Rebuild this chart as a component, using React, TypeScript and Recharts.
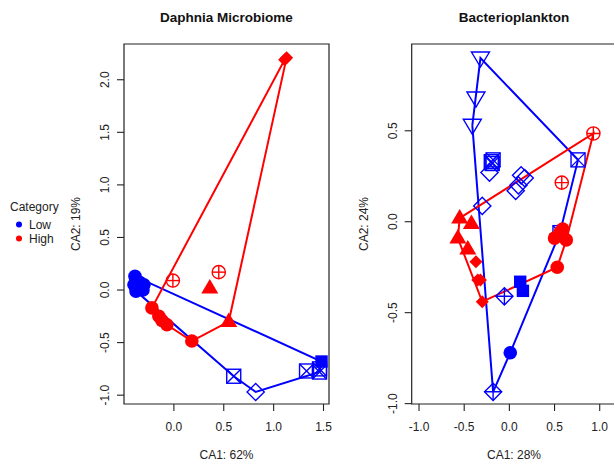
import React from "react";
import { ScatterChart, Scatter, XAxis, YAxis, ReferenceArea } from "recharts";

type P = { x: number; y: number };

const LOW = "#0000ff";
const HIGH = "#ff0000";
const FONT = "'Liberation Sans', Arial, Helvetica, sans-serif";

// ---- Daphnia Microbiome (CA1 62%, CA2 19%) ----
const daphniaLowCircle: P[] = [
  { x: -0.39, y: 0.13 }, { x: -0.4, y: 0.05 }, { x: -0.37, y: 0.01 },
  { x: -0.34, y: 0.07 }, { x: -0.3, y: 0.05 }, { x: -0.31, y: 0.0 },
  { x: -0.38, y: -0.01 },
];
const daphniaLowSquare: P[] = [{ x: 1.48, y: -0.68 }];
const daphniaLowBoxX: P[] = [
  { x: 0.6, y: -0.82 }, { x: 1.33, y: -0.77 }, { x: 1.46, y: -0.78 }, { x: 1.46, y: -0.75 },
];
const daphniaLowDiamond: P[] = [{ x: 0.82, y: -0.97 }];

const daphniaHighDiamond: P[] = [{ x: 1.11, y: 2.19 }, { x: 1.13, y: 2.21 }];
const daphniaHighCirclePlus: P[] = [{ x: -0.01, y: 0.09 }, { x: 0.45, y: 0.17 }];
const daphniaHighTriangle: P[] = [{ x: 0.36, y: 0.02 }, { x: 0.55, y: -0.3 }];
const daphniaHighCircle: P[] = [
  { x: -0.22, y: -0.17 }, { x: -0.15, y: -0.25 }, { x: -0.12, y: -0.29 },
  { x: -0.07, y: -0.33 }, { x: 0.18, y: -0.485 },
];

// ---- Bacterioplankton (CA1 28%, CA2 24%) ----
const bactLowDownTri: P[] = [{ x: -0.32, y: 0.9 }, { x: -0.37, y: 0.68 }, { x: -0.41, y: 0.53 }];
const bactLowBoxX: P[] = [
  { x: -0.2, y: 0.33 }, { x: -0.18, y: 0.34 }, { x: -0.19, y: 0.32 },
  { x: 0.76, y: 0.34 }, { x: 0.56, y: -0.06 },
];
const bactLowDiamond: P[] = [
  { x: -0.22, y: 0.27 }, { x: 0.13, y: 0.255 }, { x: 0.07, y: 0.17 },
  { x: 0.17, y: 0.24 }, { x: 0.1, y: 0.2 }, { x: -0.3, y: 0.087 },
];
const bactLowSquare: P[] = [{ x: 0.12, y: -0.33 }, { x: 0.15, y: -0.38 }];
const bactLowDiamondPlus: P[] = [{ x: -0.055, y: -0.41 }, { x: -0.18, y: -0.935 }];
const bactLowCircle: P[] = [{ x: 0.01, y: -0.72 }];

const bactHighCirclePlus: P[] = [{ x: 0.93, y: 0.485 }, { x: 0.58, y: 0.215 }];
const bactHighTriangle: P[] = [
  { x: -0.55, y: 0.02 }, { x: -0.42, y: -0.01 }, { x: -0.57, y: -0.09 }, { x: -0.46, y: -0.15 },
];
const bactHighDiamond: P[] = [
  { x: -0.37, y: -0.22 }, { x: -0.35, y: -0.32 }, { x: -0.32, y: -0.32 }, { x: -0.3, y: -0.44 },
];
const bactHighCircle: P[] = [
  { x: 0.5, y: -0.09 }, { x: 0.59, y: -0.04 }, { x: 0.63, y: -0.1 }, { x: 0.53, y: -0.25 }, { x: 0.56, y: -0.06 },
];

const daphniaTicksX = [0, 0.5, 1, 1.5];
const daphniaTicksY = [-1, -0.5, 0, 0.5, 1, 1.5, 2];
const bactTicksX = [-1, -0.5, 0, 0.5, 1];
const bactTicksY = [-1, -0.5, 0, 0.5];

function convexHull(points: P[]): P[] {
  const pts = [...points].sort((a, b) => a.x - b.x || a.y - b.y);
  const cross = (o: P, a: P, b: P) => (a.x - o.x) * (b.y - o.y) - (a.y - o.y) * (b.x - o.x);
  const lower: P[] = [];
  for (const p of pts) {
    while (lower.length >= 2 && cross(lower[lower.length - 2], lower[lower.length - 1], p) <= 0) lower.pop();
    lower.push(p);
  }
  const upper: P[] = [];
  for (let i = pts.length - 1; i >= 0; i--) {
    const p = pts[i];
    while (upper.length >= 2 && cross(upper[upper.length - 2], upper[upper.length - 1], p) <= 0) upper.pop();
    upper.push(p);
  }
  const h = lower.slice(0, -1).concat(upper.slice(0, -1));
  return [...h, h[0]];
}

type Kind =
  | "circle" | "square" | "triangle" | "diamond"
  | "circlePlus" | "boxX" | "openDiamond" | "downTriangle" | "diamondPlus";

function Glyph({ cx, cy, kind, color }: { cx: number; cy: number; kind: Kind; color: string }) {
  const sw = 1.4;
  switch (kind) {
    case "circle":
      return <circle cx={cx} cy={cy} r={6.8} fill={color} />;
    case "square":
      return <rect x={cx - 6.2} y={cy - 6.2} width={12.4} height={12.4} fill={color} />;
    case "triangle":
      return <polygon points={`${cx},${cy - 9} ${cx - 8.5},${cy + 5.5} ${cx + 8.5},${cy + 5.5}`} fill={color} />;
    case "diamond":
      return <polygon points={`${cx},${cy - 6.5} ${cx + 6.5},${cy} ${cx},${cy + 6.5} ${cx - 6.5},${cy}`} fill={color} />;
    case "circlePlus":
      return (
        <g stroke={color} strokeWidth={sw} fill="none">
          <circle cx={cx} cy={cy} r={6.6} />
          <line x1={cx - 6.6} y1={cy} x2={cx + 6.6} y2={cy} />
          <line x1={cx} y1={cy - 6.6} x2={cx} y2={cy + 6.6} />
        </g>
      );
    case "boxX":
      return (
        <g stroke={color} strokeWidth={sw} fill="none">
          <rect x={cx - 7} y={cy - 7} width={14} height={14} />
          <line x1={cx - 7} y1={cy - 7} x2={cx + 7} y2={cy + 7} />
          <line x1={cx - 7} y1={cy + 7} x2={cx + 7} y2={cy - 7} />
        </g>
      );
    case "openDiamond":
      return (
        <polygon
          points={`${cx},${cy - 8.6} ${cx + 8.6},${cy} ${cx},${cy + 8.6} ${cx - 8.6},${cy}`}
          stroke={color} strokeWidth={sw} fill="none"
        />
      );
    case "downTriangle":
      return (
        <polygon
          points={`${cx - 9},${cy - 6} ${cx + 9},${cy - 6} ${cx},${cy + 9}`}
          stroke={color} strokeWidth={sw} fill="none"
        />
      );
    case "diamondPlus":
      return (
        <g stroke={color} strokeWidth={sw} fill="none">
          <polygon points={`${cx},${cy - 8.6} ${cx + 8.6},${cy} ${cx},${cy + 8.6} ${cx - 8.6},${cy}`} />
          <line x1={cx - 8.6} y1={cy} x2={cx + 8.6} y2={cy} />
          <line x1={cx} y1={cy - 8.6} x2={cx} y2={cy + 8.6} />
        </g>
      );
  }
  return null;
}

type Series = { kind: Kind; color: string; data: P[] };

const fmt = (v: number) => v.toFixed(1);

function XTick(props: any) {
  const { x, y, payload } = props;
  return (
    <text x={x} y={y + 20} textAnchor="middle" fontSize={12} fontFamily={FONT} fill="#222">
      {fmt(payload.value)}
    </text>
  );
}

function YTick(props: any) {
  const { x, y, payload } = props;
  const bx = x - 7.5;
  return (
    <text x={bx} y={y} transform={`rotate(-90 ${bx} ${y})`} textAnchor="middle" fontSize={12} fontFamily={FONT} fill="#222">
      {fmt(payload.value)}
    </text>
  );
}

const PLOT_W = 205;

function Panel({
  left, width, domainX, domainY, ticksX, ticksY, series, hulls,
}: {
  left: number; width: number; domainX: [number, number]; domainY: [number, number];
  ticksX: number[]; ticksY: number[]; series: Series[]; hulls: { color: string; points: P[] }[];
}) {
  return (
    <div style={{ position: "absolute", left: 0, top: 0 }}>
      <ScatterChart
        width={width}
        height={462}
        margin={{ top: 44, bottom: 28, left: left - 60, right: width - left - PLOT_W }}
      >
        <XAxis
          type="number" dataKey="x" domain={domainX} ticks={ticksX} interval={0}
          allowDataOverflow axisLine={false} tickSize={7} tickMargin={0}
          tickLine={{ stroke: "#222", strokeWidth: 1.1 }} tick={XTick} height={30}
        />
        <YAxis
          type="number" dataKey="y" domain={domainY} ticks={ticksY} interval={0}
          allowDataOverflow axisLine={false} tickSize={7} tickMargin={0}
          tickLine={{ stroke: "#222", strokeWidth: 1.1 }} tick={YTick} width={60}
        />
        <ReferenceArea
          x1={domainX[0]} x2={domainX[1]} y1={domainY[0]} y2={domainY[1]}
          fill="none" fillOpacity={0} stroke="#222" strokeWidth={1.2} strokeOpacity={1}
        />
        {hulls.map((h, i) => (
          <Scatter
            key={`h${i}`} data={h.points} line={{ stroke: h.color, strokeWidth: 2 }}
            lineType="joint" shape={() => <g />} isAnimationActive={false}
          />
        ))}
        {series.map((s, i) => (
          <Scatter
            key={`s${i}`} data={s.data} isAnimationActive={false}
            shape={(p: any) => <Glyph cx={p.cx} cy={p.cy} kind={s.kind} color={s.color} />}
          />
        ))}
      </ScatterChart>
    </div>
  );
}

const daphniaSeries: Series[] = [
  { kind: "boxX", color: LOW, data: daphniaLowBoxX },
  { kind: "openDiamond", color: LOW, data: daphniaLowDiamond },
  { kind: "square", color: LOW, data: daphniaLowSquare },
  { kind: "circlePlus", color: HIGH, data: daphniaHighCirclePlus },
  { kind: "triangle", color: HIGH, data: daphniaHighTriangle },
  { kind: "diamond", color: HIGH, data: daphniaHighDiamond },
  { kind: "circle", color: HIGH, data: daphniaHighCircle },
  { kind: "circle", color: LOW, data: daphniaLowCircle },
];

const bactSeries: Series[] = [
  { kind: "downTriangle", color: LOW, data: bactLowDownTri },
  { kind: "boxX", color: LOW, data: bactLowBoxX },
  { kind: "openDiamond", color: LOW, data: bactLowDiamond },
  { kind: "diamondPlus", color: LOW, data: bactLowDiamondPlus },
  { kind: "square", color: LOW, data: bactLowSquare },
  { kind: "circle", color: LOW, data: bactLowCircle },
  { kind: "circlePlus", color: HIGH, data: bactHighCirclePlus },
  { kind: "triangle", color: HIGH, data: bactHighTriangle },
  { kind: "diamond", color: HIGH, data: bactHighDiamond },
  { kind: "circle", color: HIGH, data: bactHighCircle },
];

const daphniaHulls = [
  { color: LOW, points: convexHull([...daphniaLowCircle, ...daphniaLowSquare, ...daphniaLowBoxX, ...daphniaLowDiamond]) },
  { color: HIGH, points: convexHull([...daphniaHighDiamond, ...daphniaHighCirclePlus, ...daphniaHighTriangle, ...daphniaHighCircle]) },
];
const bactHulls = [
  {
    color: LOW,
    points: convexHull([
      ...bactLowDownTri, ...bactLowBoxX, ...bactLowDiamond, ...bactLowSquare, ...bactLowDiamondPlus, ...bactLowCircle,
    ]),
  },
  { color: HIGH, points: convexHull([...bactHighCirclePlus, ...bactHighTriangle, ...bactHighDiamond, ...bactHighCircle]) },
];

export default function App() {
  return (
    <div style={{ position: "absolute", left: 0, top: 0, width: 614, height: 462, overflow: "hidden", background: "#fff" }}>
      <Panel
        left={124} width={614} domainX={[-0.5, 1.555]} domainY={[-1.084, 2.34]}
        ticksX={daphniaTicksX} ticksY={daphniaTicksY} series={daphniaSeries} hulls={daphniaHulls}
      />
      <Panel
        left={411.7} width={640} domainX={[-1.081, 1.188]} domainY={[-1.002, 0.977]}
        ticksX={bactTicksX} ticksY={bactTicksY} series={bactSeries} hulls={bactHulls}
      />
      <svg width={614} height={462} style={{ position: "absolute", left: 0, top: 0, pointerEvents: "none" }} fontFamily={FONT}>
        <text x={226.5} y={22} textAnchor="middle" fontSize={13.5} fontWeight="bold" fill="#111">Daphnia Microbiome</text>
        <text x={514} y={22} textAnchor="middle" fontSize={13.5} fontWeight="bold" fill="#111">Bacterioplankton</text>
        <text x={226.5} y={459} textAnchor="middle" fontSize={12} fill="#222">CA1: 62%</text>
        <text x={514} y={459} textAnchor="middle" fontSize={12} fill="#222">CA1: 28%</text>
        <text x={80.3} y={224} transform="rotate(-90 80.3 224)" textAnchor="middle" fontSize={12} fill="#222">CA2: 19%</text>
        <text x={368} y={224} transform="rotate(-90 368 224)" textAnchor="middle" fontSize={12} fill="#222">CA2: 24%</text>
        <text x={10} y={211} fontSize={12} fill="#222">Category</text>
        <circle cx={19} cy={224.5} r={3} fill={LOW} />
        <text x={29} y={229} fontSize={12} fill="#222">Low</text>
        <circle cx={19} cy={238.5} r={3} fill={HIGH} />
        <text x={29} y={243} fontSize={12} fill="#222">High</text>
      </svg>
    </div>
  );
}
